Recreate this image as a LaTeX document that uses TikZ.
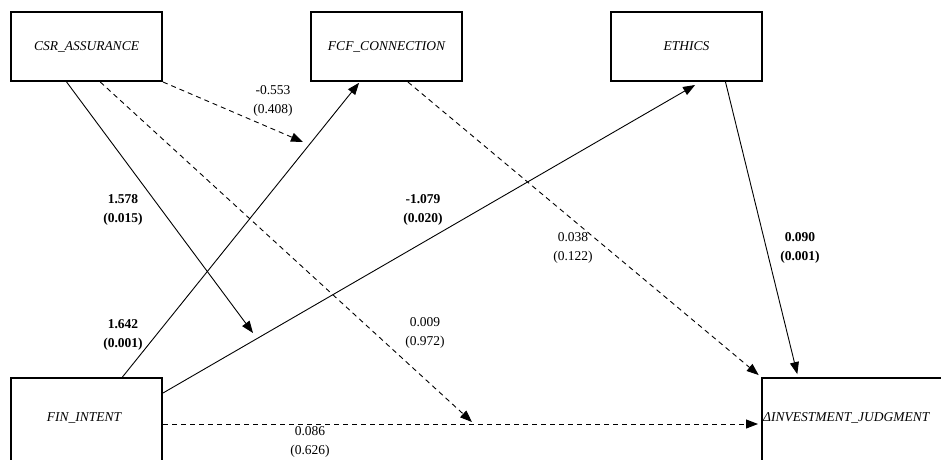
\documentclass[tikz,border=0pt]{standalone}
\usepackage{fontspec}
\setmainfont{Liberation Serif}
\usetikzlibrary{arrows.meta,calc}
\begin{document}
\begin{tikzpicture}[x=1pt,y=-1pt,
 box/.style={draw, line width=2pt, rectangle, minimum width=151pt, minimum height=69pt, inner sep=0pt, font=\fontsize{13.5}{16}\selectfont\itshape},
 vname/.style={font=\fontsize{13.5}{16}\selectfont\itshape, inner sep=0pt},
 lbl/.style={font=\fontsize{13.5}{19}\selectfont, align=center, inner sep=0pt},
 blbl/.style={lbl, font=\fontsize{13.5}{19}\selectfont\bfseries},
 link/.style={line width=0.9pt, -{Triangle[length=12pt,width=9pt]}},
 dlink/.style={link, dash pattern=on 5pt off 4pt}]
\useasboundingbox (0,0) rectangle (941,459);
\clip (0,0) rectangle (941,459);
% variable boxes
\node[box] (csr) at (86.5,46.5) {CSR\_ASSURANCE};
\node[box] (fcf) at (386.5,46.5) {FCF\_CONNECTION};
\node[box] (eth) at (686.5,46.5) {ETHICS};
\node[box, minimum height=100pt, anchor=north] (fin) at (86.5,377) {};
\node[vname] (fintxt) at (84,418) {FIN\_INTENT};
\node[box, minimum width=220pt, minimum height=100pt, anchor=north west] (inv) at (761,377) {};
\node[vname, anchor=west] (invtxt) at (763,418) {ΔINVESTMENT\_JUDGMENT};
% moderation targets
\coordinate (m1) at (303,142);
\coordinate (m2) at (253,333);
\coordinate (m3) at (472,422);
% connectors
\draw[dlink] (csr.south east) -- (m1);
\draw[link] ($(csr.south west)!0.37!(csr.south east)$) -- (m2);
\draw[dlink] ($(csr.south west)!0.59!(csr.south east)$) -- (m3);
\draw[link, shorten >=1pt] ($(fin.north west)!0.735!(fin.north east)$) -- ($(fcf.south west)!0.325!(fcf.south east)$);
\draw[link, shorten >=6pt] ($(fin.north east)+(0,16)$) -- ($(eth.south west)!0.59!(eth.south east)$);
\draw[dlink, shorten >=3pt] ($(fin.north east)+(0,47)$) -- ($(inv.north west)+(0,47)$);
\draw[dlink, shorten >=3pt] ($(fcf.south west)!0.64!(fcf.south east)$) -- (inv.north west);
\draw[link, shorten >=3pt] ($(eth.south west)!0.755!(eth.south east)$) -- ($(inv.north west)+(37,0)$);
% labels
\node[lbl] (l1) at (273,100.5) {-0.553\\(0.408)};
\node[blbl] (l2) at (123,209.5) {1.578\\(0.015)};
\node[blbl] (l3) at (123,334.5) {1.642\\(0.001)};
\node[blbl] (l4) at (423,209.5) {-1.079\\(0.020)};
\node[lbl] (l5) at (573,248) {0.038\\(0.122)};
\node[lbl] (l6) at (425,332.5) {0.009\\(0.972)};
\node[blbl] (l7) at (800,248) {0.090\\(0.001)};
\node[lbl] (l8) at (310,442) {0.086\\(0.626)};
\end{tikzpicture}
\end{document}
